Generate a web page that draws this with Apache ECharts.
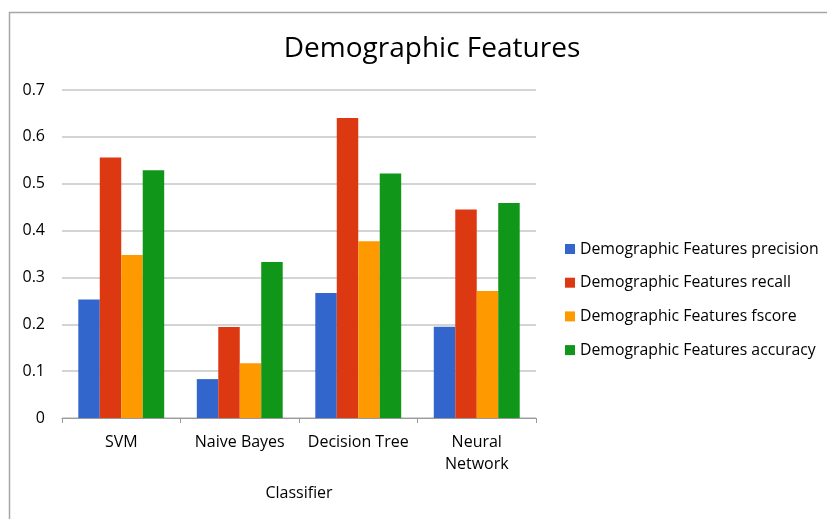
<!DOCTYPE html>
<html><head><meta charset="utf-8">
<script src="https://cdn.jsdelivr.net/npm/echarts@6/dist/echarts.min.js"></script>
<style>html,body{margin:0;padding:0;background:#fff}#c{width:827px;height:519px}</style>
</head><body><div id="c"></div>
<script>
const categories = ['SVM', 'Naive Bayes', 'Decision Tree', 'Neural\nNetwork'];
const seriesNames = ['Demographic Features precision', 'Demographic Features recall', 'Demographic Features fscore', 'Demographic Features accuracy'];
const precision = [0.253, 0.083, 0.267, 0.195];
const recall = [0.556, 0.194, 0.640, 0.445];
const fscore = [0.348, 0.117, 0.377, 0.271];
const accuracy = [0.529, 0.333, 0.522, 0.459];
const colors = ['#3366cc', '#dc3912', '#ff9900', '#109618'];
const yTicks = [0, 0.1, 0.2, 0.3, 0.4, 0.5, 0.6, 0.7];

const FONT = 'Open Sans';
const chart = echarts.init(document.getElementById('c'));
const values = [precision, recall, fscore, accuracy];
chart.setOption({
  animation: false,
  color: colors,
  textStyle: {fontFamily: FONT},
  title: {text: 'Demographic Features', left: 427, top: 30, textAlign: 'center',
    textStyle: {fontFamily: FONT, fontSize: 28, fontWeight: 'normal', color: '#000'}},
  graphic: [{type: 'polyline', shape: {points: [[9.5, 519], [9.5, 12.5], [827, 12.5]]},
    style: {stroke: '#a6a6a6', lineWidth: 1.5, fill: null}}],
  legend: {orient: 'vertical', left: 560, top: 236, itemWidth: 10, itemHeight: 10, itemGap: 17.7,
    icon: 'rect', textStyle: {fontFamily: FONT, fontSize: 15.8, color: '#000', padding: [0, 0, 0, 0]},
    data: seriesNames},
  grid: {left: 62, right: 291, top: 90, bottom: 101},
  xAxis: {type: 'category', data: categories, name: 'Classifier', nameLocation: 'middle', nameGap: 67,
    nameTextStyle: {fontFamily: FONT, fontSize: 16, color: '#000'},
    axisLine: {lineStyle: {color: '#9a9a9a', width: 1}},
    axisTick: {show: true, length: 5, lineStyle: {color: '#9a9a9a'}},
    axisLabel: {interval: 0, fontFamily: FONT, fontSize: 16, color: '#000', margin: 13, lineHeight: 22}},
  yAxis: {type: 'value', min: 0, max: 0.7, interval: 0.1,
    axisLine: {show: false}, axisTick: {show: false},
    splitLine: {lineStyle: {color: '#c6c6c6', width: 1.5}},
    axisLabel: {fontFamily: FONT, fontSize: 16, color: '#000', margin: 17,
      formatter: v => { const t = yTicks.find(x => Math.abs(x - v) < 1e-9); return t === 0 ? '0' : String(t); }}},
  series: seriesNames.map((n, i) => ({name: n, type: 'bar', data: values[i], barGap: '0%', barCategoryGap: '27.5%',
    itemStyle: {color: colors[i]}}))
});
</script></body></html>
